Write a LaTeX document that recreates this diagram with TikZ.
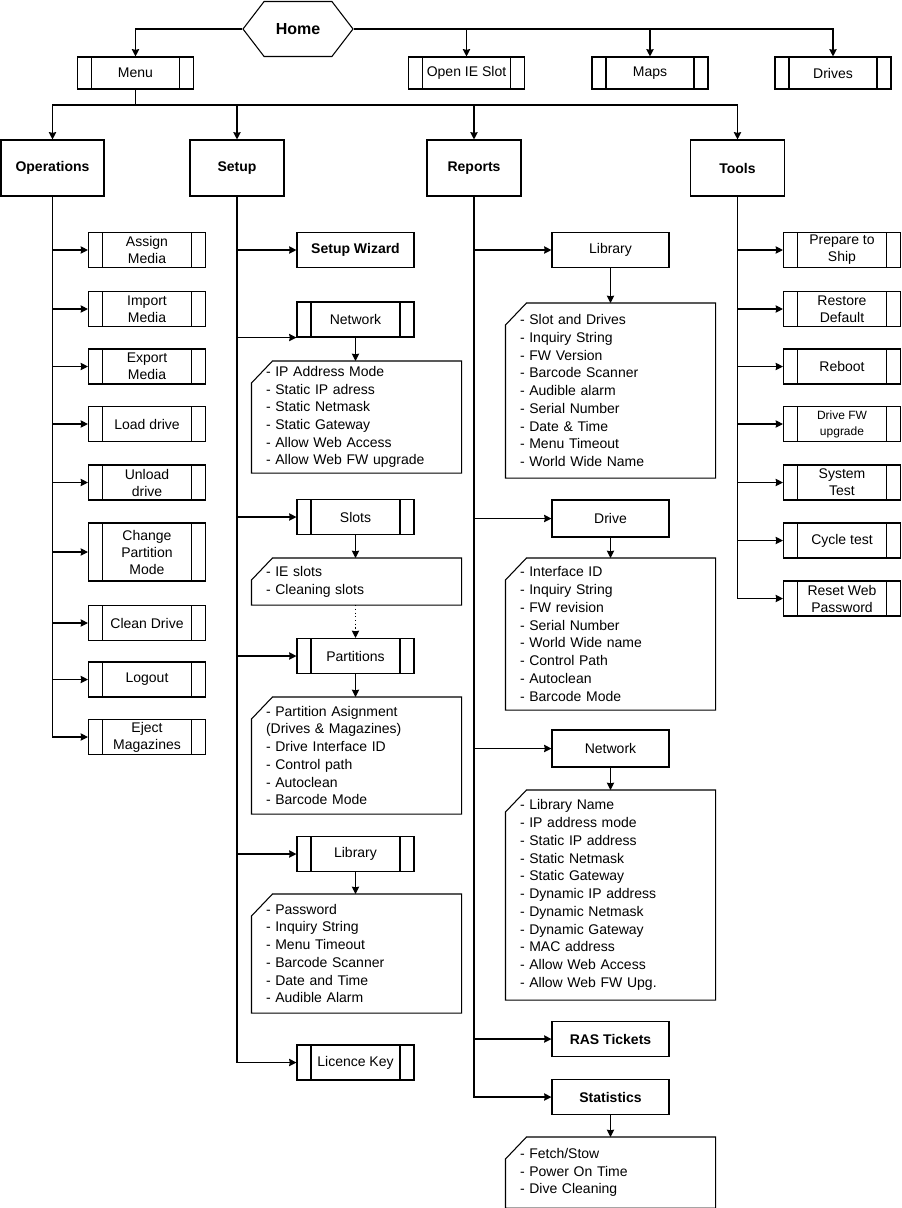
\documentclass[tikz,border=0pt]{standalone}
\usepackage{fontspec}
\setmainfont{Liberation Sans}
\usetikzlibrary{shapes.symbols, arrows.meta}

\begin{document}
\begin{tikzpicture}[x=0.75pt, y=-0.75pt, thick, font=\fontsize{10.5}{12.75}\selectfont, >={Stealth[length=5.5pt, width=5.5pt, inset=0.5pt]},
        homebox/.style = {draw, signal, signal to=west and east, signal pointer angle=105, minimum width=82.5pt, minimum height=41.25pt, inner sep=1pt, font=\fontsize{12}{14}\selectfont\bfseries},
        head/.style = {draw, minimum width=70.5pt, minimum height=42pt, font=\fontsize{10.5}{12.75}\selectfont\bfseries},
        leaf/.style = {draw, minimum width=87.75pt, minimum height=26.25pt, align=center, inner sep=1pt},
        procbox/.style = {leaf, path picture={\draw ([xshift=10.5pt]path picture bounding box.north west) -- ([xshift=10.5pt]path picture bounding box.south west) ([xshift=-10.5pt]path picture bounding box.north east) -- ([xshift=-10.5pt]path picture bounding box.south east);}},
        topbox/.style = {procbox, minimum width=87pt, minimum height=24pt},
        card/.style = {anchor=north, align=left, text width=135.75pt, inner xsep=10.5pt, inner ysep=2pt, font=\fontsize{10.5}{13.3}\selectfont,
            append after command={\pgfextra{\draw ([yshift=-16.5pt]\tikzlastnode.north west) -- ([xshift=15.75pt]\tikzlastnode.north west) -- (\tikzlastnode.north east) -- (\tikzlastnode.south east) -- (\tikzlastnode.south west) -- cycle;}}}]
    \useasboundingbox (0,0) rectangle (902,1208);
    \node[homebox] (home) at (298,29) {Home};
    \node[topbox] (menu) at (135.5,73) {Menu};
    \node[topbox] (openie) at (466.5,73) {Open IE Slot};
    \node[topbox] (maps) at (650,73) {Maps};
    \node[topbox] (drives) at (833,73) {Drives};
    \coordinate (bus) at (135.5,105);

    \node[head, minimum width=77.25pt] (ops) at (52.5,168) {Operations};
    \node[head] (setup) at (237,168) {Setup};
    \node[head] (reports) at (474,168) {Reports};
    \node[head] (tools) at (737.5,168) {Tools};

    \node[procbox] (assign) at (147,250) {Assign\\Media};
    \node[procbox] (import) at (147,309) {Import\\Media};
    \node[procbox] (export) at (147,366.5) {Export\\Media};
    \node[procbox] (load) at (147,424) {Load drive};
    \node[procbox] (unload) at (147,482.5) {Unload\\drive};
    \node[procbox, minimum height=43.5pt] (change) at (147,552) {Change\\Partition\\Mode};
    \node[procbox] (clean) at (147,623) {Clean Drive};
    \node[procbox] (logout) at (147,679.5) {Logout};
    \node[procbox] (eject) at (147,737) {Eject\\Magazines};

    \node[leaf, font=\fontsize{10.5}{12.75}\selectfont\bfseries] (wizard) at (355.5,250) {Setup Wizard};
    \node[procbox] (netA) at (355.5,319.5) {Network};
    \node[card, minimum height=83.25pt] (netAc) at (356.5,361) {- IP Address Mode\\- Static IP adress\\- Static Netmask\\- Static Gateway\\- Allow Web Access\\- Allow Web FW upgrade};
    \node[procbox] (slots) at (355.5,517) {Slots};
    \node[card, minimum height=34.5pt] (slotsc) at (356.5,558) {- IE slots\\- Cleaning slots};
    \node[procbox] (part) at (355.5,656) {Partitions};
    \node[card, minimum height=87pt] (partc) at (356.5,697) {- Partition Asignment\\(Drives \& Magazines)\\- Drive Interface ID\\- Control path\\- Autoclean\\- Barcode Mode};
    \node[procbox] (libA) at (355.5,854) {Library};
    \node[card, minimum height=88.5pt] (libAc) at (356.5,894) {- Password\\- Inquiry String\\- Menu Timeout\\- Barcode Scanner\\- Date and Time\\- Audible Alarm};
    \node[procbox] (licence) at (355.5,1062.5) {Licence Key};

    \node[leaf] (libB) at (610.5,250) {Library};
    \node[card, minimum height=130.5pt] (libBc) at (610.5,303) {- Slot and Drives\\- Inquiry String\\- FW Version\\- Barcode Scanner\\- Audible alarm\\- Serial Number\\- Date \& Time\\- Menu Timeout\\- World Wide Name};
    \node[leaf, minimum height=27.75pt] (drive) at (610.5,518.5) {Drive};
    \node[card, minimum height=113.25pt] (drivec) at (610.5,558) {- Interface ID\\- Inquiry String\\- FW revision\\- Serial Number\\- World Wide name\\- Control Path\\- Autoclean\\- Barcode Mode};
    \node[leaf, minimum height=27.75pt] (netB) at (610.5,748.5) {Network};
    \node[card, minimum height=156.75pt] (netBc) at (610.5,790) {- Library Name\\- IP address mode\\- Static IP address\\- Static Netmask\\- Static Gateway\\- Dynamic IP address\\- Dynamic Netmask\\- Dynamic Gateway\\- MAC address\\- Allow Web Access\\- Allow Web FW Upg.};
    \node[leaf, font=\fontsize{10.5}{12.75}\selectfont\bfseries] (ras) at (610.5,1039) {RAS Tickets};
    \node[leaf, font=\fontsize{10.5}{12.75}\selectfont\bfseries] (stats) at (610.5,1097) {Statistics};
    \node[card, minimum height=52.5pt] (statsc) at (610.5,1137) {- Fetch/Stow\\- Power On Time\\- Dive Cleaning};

    \node[procbox] (ship) at (842,250) {Prepare to\\Ship};
    \node[procbox] (restore) at (842,309) {Restore\\Default};
    \node[procbox] (reboot) at (842,366.5) {Reboot};
    \node[procbox, font=\fontsize{9}{12}\selectfont] (fw) at (842,424) {Drive FW\\upgrade};
    \node[procbox] (systest) at (842,482.5) {System\\Test};
    \node[procbox] (cycle) at (842,540.5) {Cycle test};
    \node[procbox] (reset) at (842,598.5) {Reset Web\\Password};

    \draw[->] (home.west) -| (menu.north);
    \draw[->] (home.east) -| (drives.north);
    \draw[->] (openie.north |- home.east) -- (openie.north);
    \draw[->] (maps.north |- home.east) -- (maps.north);
    \draw[->] (menu.south) -- (bus) -| (ops.north);
    \draw[->] (menu.south) -- (bus) -| (setup.north);
    \draw[->] (menu.south) -- (bus) -| (reports.north);
    \draw[->] (menu.south) -- (bus) -| (tools.north);

    \draw[->] (ops.south) |- (assign.west);
    \draw[->] (ops.south) |- (import.west);
    \draw[->] (ops.south) |- (export.west);
    \draw[->] (ops.south) |- (load.west);
    \draw[->] (ops.south) |- (unload.west);
    \draw[->] (ops.south) |- (change.west);
    \draw[->] (ops.south) |- (clean.west);
    \draw[->] (ops.south) |- (logout.west);
    \draw[->] (ops.south) |- (eject.west);

    \draw[->] (setup.south) |- (wizard.west);
    \draw[->] (setup.south) |- (netA.south west);
    \draw[->] (setup.south) |- (slots.west);
    \draw[->] (setup.south) |- (part.west);
    \draw[->] (setup.south) |- (libA.west);
    \draw[->] (setup.south) |- (licence.west);
    \draw[->] (netA.south) -- (netA.south |- netAc.north);
    \draw[->] (slots.south) -- (slots.south |- slotsc.north);
    \draw[->, dotted] (part.north |- slotsc.south) -- (part.north);
    \draw[->] (part.south) -- (part.south |- partc.north);
    \draw[->] (libA.south) -- (libA.south |- libAc.north);

    \draw[->] (reports.south) |- (libB.west);
    \draw[->] (reports.south) |- (drive.west);
    \draw[->] (reports.south) |- (netB.west);
    \draw[->] (reports.south) |- (ras.west);
    \draw[->] (reports.south) |- (stats.west);
    \draw[->] (libB.south) -- (libBc.north);
    \draw[->] (drive.south) -- (drivec.north);
    \draw[->] (netB.south) -- (netBc.north);
    \draw[->] (stats.south) -- (statsc.north);

    \draw[->] (tools.south) |- (ship.west);
    \draw[->] (tools.south) |- (restore.west);
    \draw[->] (tools.south) |- (reboot.west);
    \draw[->] (tools.south) |- (fw.west);
    \draw[->] (tools.south) |- (systest.west);
    \draw[->] (tools.south) |- (cycle.west);
    \draw[->] (tools.south) |- (reset.west);
\end{tikzpicture}
\end{document}
